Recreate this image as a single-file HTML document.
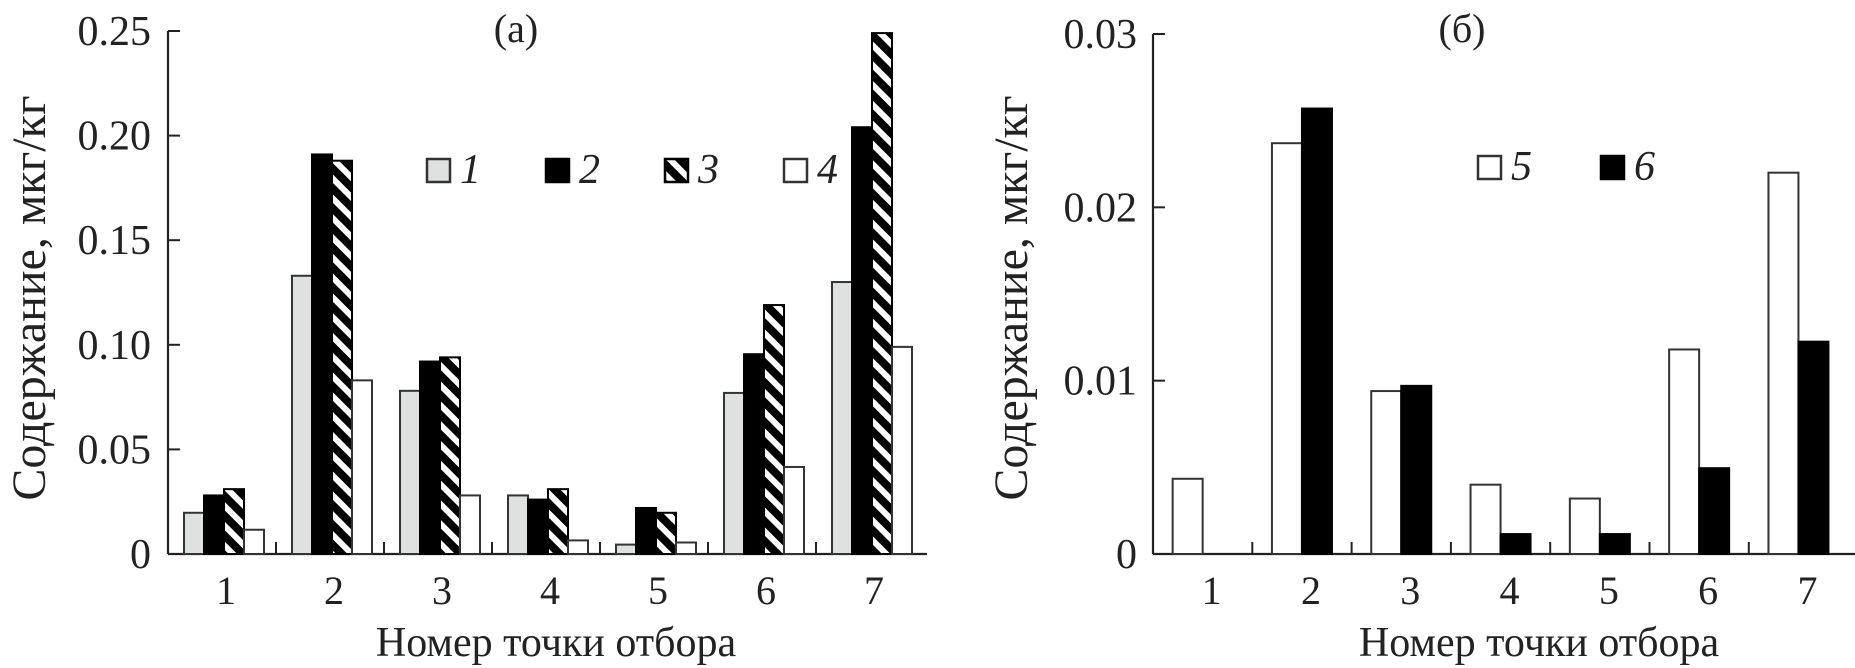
<!DOCTYPE html>
<html><head><meta charset="utf-8">
<style>
html,body{margin:0;padding:0;background:#fff;}
svg{display:block;font-family:"Liberation Serif",serif;}
</style></head>
<body>
<svg id="chart" width="1855" height="668" viewBox="0 0 1855 668" xmlns="http://www.w3.org/2000/svg">
<defs>
<pattern id="hatch" patternUnits="userSpaceOnUse" width="14" height="14" patternTransform="rotate(45)">
<rect width="14" height="14" fill="#000"/>
<rect x="0" y="0" width="14" height="6" fill="#fff"/>
</pattern>
</defs>
<g id="panelA"></g>
<g id="panelB"></g>
</svg>
<script>
const categories = ["1","2","3","4","5","6","7"];
const seriesA1 = [0.0197,0.133,0.078,0.028,0.0045,0.077,0.130];
const seriesA2 = [0.028,0.191,0.092,0.026,0.022,0.0955,0.204];
const seriesA3 = [0.031,0.188,0.094,0.031,0.0197,0.119,0.249];
const seriesA4 = [0.0116,0.083,0.028,0.0065,0.0055,0.0416,0.099];
const seriesB5 = [0.00434,0.0237,0.0094,0.0040,0.0032,0.0118,0.0220];
const seriesB6 = [0,0.0257,0.0097,0.00115,0.00115,0.00495,0.01225];
const ticksA = ["0","0.05","0.10","0.15","0.20","0.25"];
const ticksB = ["0","0.01","0.02","0.03"];
const NS="http://www.w3.org/2000/svg";
function mk(tag,attrs,parent,text){const e=document.createElementNS(NS,tag);for(const k in attrs)e.setAttribute(k,attrs[k]);if(text!==undefined)e.textContent=text;parent.appendChild(e);return e;}

function drawPanel(g,cfg){
  const x0=cfg.x0, gw=cfg.gw, base=554, top=cfg.top, vmax=cfg.vmax;
  const y=v=>base-(v/vmax)*(base-top);
  const gx=i=>x0+gw*i;
  const ya=mk('line',{x1:x0,y1:top,x2:x0,y2:base,stroke:'#222','stroke-width':2.2},g);
  
  
  const xa=mk('line',{x1:x0,y1:base,x2:cfg.xEnd,y2:base,stroke:'#222','stroke-width':2.2},g);
  
  
  cfg.ticks.forEach(t=>{
    const yy=y(parseFloat(t));
    if(parseFloat(t)>0){const tk=mk('line',{x1:x0,y1:yy,x2:x0+12,y2:yy,stroke:'#222','stroke-width':2},g);
    
    }
    const tl=mk('text',{x:cfg.tickRight,y:yy+14,'text-anchor':'end','font-size':42,fill:'#222'},g,t);
    
    
  });
  categories.forEach((c,i)=>{
    if(i<categories.length-1){const bx=gx(i+1);
    const tk=mk('line',{x1:bx,y1:base,x2:bx,y2:base-12,stroke:'#222','stroke-width':2},g);
    
    }
    const cx=gx(i+0.5)+cfg.labelOff;
    const tl=mk('text',{x:cx,y:604,'text-anchor':'middle','font-size':40,fill:'#222'},g,c);
    
    
    const n=cfg.series.length, bw=cfg.bw, start=gx(i+0.5)+cfg.barOff-n*bw/2;
    cfg.series.forEach((s,j)=>{
      const v=s.data[i]; if(v<=0) return;
      const r=mk('rect',{x:start+j*bw,y:y(v),width:bw,height:base-y(v),fill:s.fill,stroke:s.stroke,'stroke-width':2},g);
      
      
    });
  });
  cfg.series.forEach(s=>{
    const lb=mk('rect',{x:s.lx,y:cfg.ly,width:23,height:23,fill:s.fill,stroke:s.stroke,'stroke-width':2.5},g);
    
    
    const lt=mk('text',{x:s.lx+33,y:cfg.ly+24,'font-size':42,'font-style':'italic',fill:'#222'},g,s.name);
    
    
  });
  const tt=mk('text',{x:cfg.titleX,y:42,'text-anchor':'middle','font-size':40,fill:'#222'},g,cfg.title);
  
  
  const xt=mk('text',{x:cfg.xTitleX,y:656,'text-anchor':'middle','font-size':42,fill:'#222'},g,'Номер точки отбора');
  
  
  const yt=mk('text',{x:0,y:0,'text-anchor':'middle','font-size':48,fill:'#222',transform:'translate('+cfg.yTitleX+',298) rotate(-90)'},g,'Содержание, мкг/кг');
  
  
}
drawPanel(document.getElementById('panelA'),{
  x0:168,gw:108,top:31,vmax:0.25,xEnd:927,ticks:ticksA,tickRight:151,labelOff:4,barOff:2,bw:20,
  ly:159,title:'(a)',titleX:516,xTitleX:556,yTitleX:45,
  series:[
    {name:'1',data:seriesA1,fill:'#dfe1e1',stroke:'#333',lx:427},
    {name:'2',data:seriesA2,fill:'#000',stroke:'#000',lx:546},
    {name:'3',data:seriesA3,fill:'url(#hatch)',stroke:'#000',lx:665},
    {name:'4',data:seriesA4,fill:'#fff',stroke:'#333',lx:784}
  ]});
drawPanel(document.getElementById('panelB'),{
  x0:1153,gw:99.3,top:34,vmax:0.03,xEnd:1855,ticks:ticksB,tickRight:1137,labelOff:9,barOff:0,bw:30,
  ly:156,title:'(б)',titleX:1462,xTitleX:1539,yTitleX:1027,
  series:[
    {name:'5',data:seriesB5,fill:'#fff',stroke:'#333',lx:1478},
    {name:'6',data:seriesB6,fill:'#000',stroke:'#000',lx:1601}
  ]});
</script>
</body></html>
